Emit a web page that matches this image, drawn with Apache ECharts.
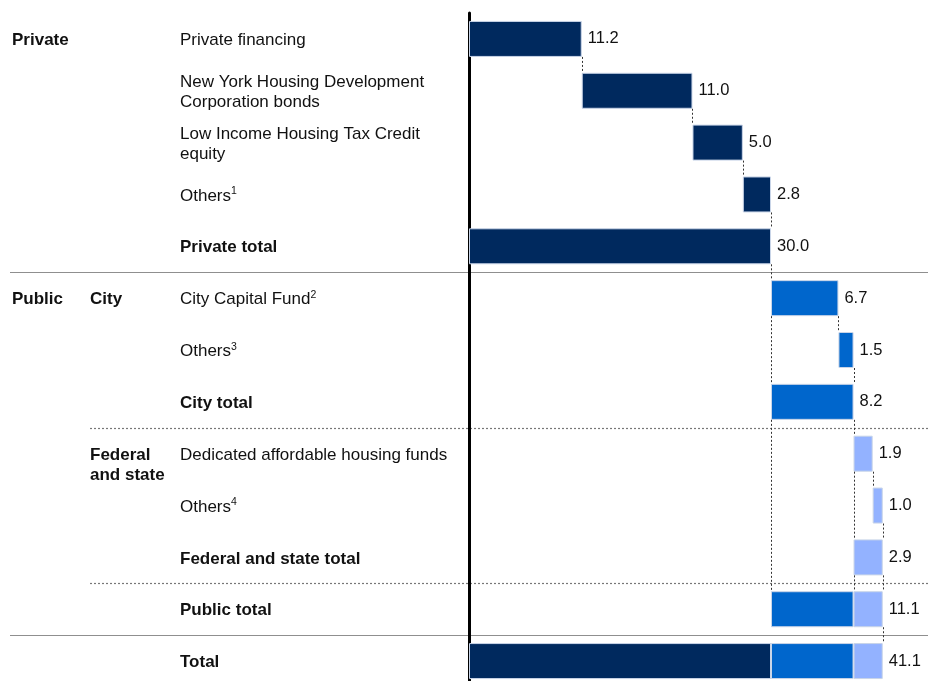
<!DOCTYPE html>
<html>
<head>
<meta charset="utf-8">
<script src="https://cdn.jsdelivr.net/npm/echarts@6/dist/echarts.min.js"></script>
<style>
  html, body { margin: 0; padding: 0; background: #fff; overflow: hidden; }
  /* the last row runs slightly past the bottom edge of the view */
  #chart { width: 928px; height: 687px; }
</style>
</head>
<body>
<div id="chart"></div>
<script>
// Funding sources, $ billions (waterfall rows, top to bottom)
const categories = [
  'Private financing',
  'New York Housing Development\nCorporation bonds',
  'Low Income Housing Tax Credit\nequity',
  'Others¹',
  'Private total',
  'City Capital Fund²',
  'Others³',
  'City total',
  'Dedicated affordable housing funds',
  'Others⁴',
  'Federal and state total',
  'Public total',
  'Total'
];
const totalRows = [4, 7, 10, 11, 12];

// Value printed beside each row
const rowValues = [11.2, 11.0, 5.0, 2.8, 30.0, 6.7, 1.5, 8.2, 1.9, 1.0, 2.9, 11.1, 41.1];

// Where each floating bar starts (running total before the row)
const baseVals = [0, 11.2, 22.2, 27.2, 0, 30.0, 36.7, 30.0, 38.2, 40.1, 38.2, 30.0, 0];

// Stacked segments by funding group
const privateVals = [11.2, 11.0, 5.0, 2.8, 30.0, '-', '-', '-', '-', '-', '-', '-', 30.0];
const cityVals    = ['-', '-', '-', '-', '-', 6.7, 1.5, 8.2, '-', '-', '-', 8.2, 8.2];
const fedVals     = ['-', '-', '-', '-', '-', '-', '-', '-', 1.9, 1.0, 2.9, 2.9, 2.9];

// Group headings: [text, row, column]
const groupLabels = [
  ['Private', 0, 0],
  ['Public', 5, 0],
  ['City', 5, 1],
  ['Federal\nand state', 8, 1]
];

const FONT = '"Liberation Sans", Arial, sans-serif';
const TEXT_SIZE = 17;
const VALUE_SIZE = 16.5;
const NAVY = '#00295E';
const BLUE = '#0066CC';
const LIGHT = '#93B2FF';
const EDGE = '#c9d5e8';
const BAR_H = 36;

const rowEnd = i => baseVals[i] + rowValues[i];

// Dotted connectors: [x value, from row, to row]
const connectors = [
  [rowEnd(0), 0, 1],
  [rowEnd(1), 1, 2],
  [rowEnd(2), 2, 3],
  [rowEnd(3), 3, 4],
  [rowEnd(4), 4, 5],
  [baseVals[5], 5, 7],
  [rowEnd(5), 5, 6],
  [rowEnd(6), 6, 7],
  [baseVals[7], 7, 11],
  [rowEnd(7), 7, 8],
  [baseVals[8], 8, 10],
  [rowEnd(8), 8, 9],
  [rowEnd(9), 9, 10],
  [baseVals[10], 10, 11],
  [rowEnd(10), 10, 11],
  [rowEnd(11), 11, 12]
];

const supDigits = { '¹': '1', '²': '2', '³': '3', '⁴': '4' };

const chart = echarts.init(document.getElementById('chart'), null, { renderer: 'canvas' });

const segment = (name, data, color) => ({
  name, type: 'bar', stack: 'wf', data, barWidth: BAR_H,
  itemStyle: { color, borderColor: EDGE, borderWidth: 1 },
  emphasis: { disabled: true }
});

chart.setOption({
  animation: false,
  grid: { left: 469, right: 6, top: 13, bottom: 0 },
  xAxis: {
    type: 'value', min: 0, max: 45,
    show: false
  },
  yAxis: {
    type: 'category',
    inverse: true,
    data: categories,
    axisLine: { show: true, lineStyle: { color: '#000', width: 3 } },
    axisTick: { show: false },
    splitLine: { show: false },
    axisLabel: {
      align: 'left',
      margin: 289,
      formatter: (val, idx) => {
        const style = totalRows.includes(idx) ? 'b' : 'n';
        const m = val.match(/^(.*?)([¹²³⁴])$/);
        if (m) return `{${style}|${m[1]}}{s|${supDigits[m[2]]}}`;
        return val.split('\n').map(l => `{${style}|${l}}`).join('\n');
      },
      rich: {
        n: { fontFamily: FONT, fontSize: TEXT_SIZE, color: '#111', lineHeight: 20, padding: [3, 0, 0, 0] },
        b: { fontFamily: FONT, fontSize: TEXT_SIZE, fontWeight: 'bold', color: '#111', lineHeight: 20, padding: [3, 0, 0, 0] },
        s: { fontFamily: FONT, fontSize: 10.5, color: '#111', lineHeight: 20, padding: [0, 0, 6, 0] }
      }
    }
  },
  series: [
    {
      name: 'base', type: 'bar', stack: 'wf', data: baseVals, barWidth: BAR_H,
      itemStyle: { color: 'transparent' }, silent: true
    },
    segment('Private', privateVals, NAVY),
    segment('City', cityVals, BLUE),
    segment('Federal and state', fedVals, LIGHT),
    {
      name: 'values', type: 'bar', stack: 'wf', barWidth: BAR_H,
      data: categories.map(() => 0),
      itemStyle: { color: 'transparent' }, silent: true,
      label: {
        show: true, position: 'right', distance: 6,
        fontFamily: FONT, fontSize: VALUE_SIZE, color: '#111',
        formatter: p => rowValues[p.dataIndex].toFixed(1)
      }
    },
    {
      name: 'connectors', type: 'custom', silent: true, z: 3,
      data: connectors,
      encode: { x: 0, y: 1 },
      renderItem: (params, api) => {
        const x = api.value(0);
        const p1 = api.coord([x, api.value(1)]);
        const p2 = api.coord([x, api.value(2)]);
        const px = Math.round(p1[0]) + 0.5;
        return {
          type: 'line',
          shape: { x1: px, y1: p1[1] + BAR_H / 2, x2: px, y2: p2[1] - BAR_H / 2 },
          style: { stroke: '#333', lineWidth: 1, lineDash: [2, 2] }
        };
      }
    }
  ]
});

// Headings and row separators, placed from the category axis
const rowY = i => chart.convertToPixel({ yAxisIndex: 0 }, i);
const between = (a, b) => Math.round((rowY(a) + rowY(b)) / 2) + 0.5;
const colX = [12, 90];

const graphics = [];
groupLabels.forEach(([text, row, col]) => {
  graphics.push({
    type: 'text',
    x: colX[col],
    y: rowY(row) - 8.5,
    style: {
      text, fontFamily: FONT, fontSize: TEXT_SIZE, fontWeight: 'bold',
      fill: '#111', lineHeight: 20, verticalAlign: 'top', align: 'left'
    }
  });
});
[[4, 5], [11, 12]].forEach(([a, b]) => {
  const y = between(a, b);
  graphics.push({
    type: 'line', z: -1,
    shape: { x1: 10, y1: y, x2: 928, y2: y },
    style: { stroke: '#8f8f8f', lineWidth: 1.2 }
  });
});
[[7, 8], [10, 11]].forEach(([a, b]) => {
  const y = between(a, b);
  graphics.push({
    type: 'line', z: -1,
    shape: { x1: 90, y1: y, x2: 928, y2: y },
    style: { stroke: '#777', lineWidth: 1.2, lineDash: [2, 2] }
  });
});
chart.setOption({ graphic: graphics });
</script>
</body>
</html>
